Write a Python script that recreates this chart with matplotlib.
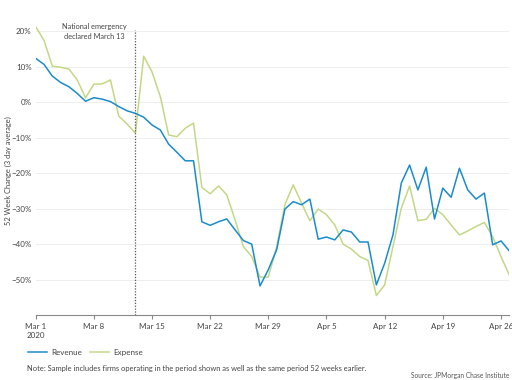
import matplotlib
matplotlib.use("Agg")
import matplotlib.pyplot as plt
import numpy as np
import datetime as dt
import matplotlib.dates as mdates

start = dt.date(2020, 3, 1)
revenue = [12.4, 10.7, 7.4, 5.6, 4.4, 2.5, 0.3, 1.3, 0.9, 0.2,
           -1.2, -2.4, -3.1, -4.2, -6.4, -7.8, -11.8, -14.1, -16.5, -16.5,
           -33.7, -34.7, -33.7, -32.9, -36.0, -39.0, -40.0, -51.8, -47.2, -41.6,
           -30.1, -28.0, -28.9, -27.3, -38.6, -38.0, -38.8, -36.0, -36.6, -39.4,
           -39.4, -51.5, -45.4, -37.4, -22.8, -17.7, -24.7, -18.3, -32.9, -24.2,
           -26.8, -18.6, -24.7, -27.3, -25.6, -40.2, -39.1, -41.9]
expense = [21.3, 17.5, 10.2, 9.9, 9.4, 6.3, 1.3, 5.1, 5.2, 6.3,
           -3.9, -6.1, -8.7, 13.0, 8.6, 1.6, -9.2, -9.7, -7.3, -5.9,
           -24.0, -25.8, -23.6, -26.1, -33.2, -40.7, -43.5, -49.3, -49.3, -40.7,
           -28.8, -23.3, -28.4, -33.4, -30.1, -31.7, -34.6, -40.0, -41.4, -43.5,
           -44.6, -54.5, -51.5, -40.7, -29.9, -23.6, -33.4, -33.0, -29.9, -31.7,
           -34.6, -37.4, -36.3, -35.0, -33.9, -37.9, -43.5, -48.7]
dates = [start + dt.timedelta(days=i) for i in range(len(revenue))]
tick_dates = [dt.date(2020, 3, 1) + dt.timedelta(days=7 * i) for i in range(9)]
tick_labels = ["Mar 1\n2020", "Mar 8", "Mar 15", "Mar 22", "Mar 29",
               "Apr 5", "Apr 12", "Apr 19", "Apr 26"]
yticks = [20, 10, 0, -10, -20, -30, -40, -50]
emergency = dt.date(2020, 3, 13)

plt.rcParams['font.family'] = ['Lato', 'DejaVu Sans']

fig = plt.figure(figsize=(5.12, 3.8), dpi=100)
ax = fig.add_axes([0.0697, 0.171, 0.925, 0.765])

ax.plot(dates, revenue, color="#1a8ccb", lw=1.1, label="Revenue", zorder=3)
ax.plot(dates, expense, color="#c3d886", lw=1.1, label="Expense", zorder=2)

ax.axvline(emergency, ymin=0, ymax=(20.5 + 60) / 82, color="#555555",
           lw=0.9, ls=(0, (1, 1.3)), zorder=4)
ax.text(dt.date(2020, 3, 8) + dt.timedelta(hours=21), 20.0,
        "National emergency\ndeclared March 13", ha="center", va="center",
        fontsize=5.3, color="#444444", linespacing=1.4)

ax.set_xlim(dates[0], dates[0] + dt.timedelta(days=57.1))
ax.set_ylim(-60, 22)
ax.set_yticks(yticks)
ax.set_yticklabels([f"{v}%".replace("-", "\u2212") for v in yticks])
ax.set_xticks(tick_dates)
ax.set_xticklabels(tick_labels)
ax.grid(axis="y", color="#eeeeee", lw=0.7)
ax.set_axisbelow(True)
for s in ["top", "right", "left"]:
    ax.spines[s].set_visible(False)
ax.spines["bottom"].set_color("#888888")
ax.spines["bottom"].set_linewidth(0.8)
ax.tick_params(axis="y", length=0, labelsize=5.8, labelcolor="#444444", pad=3)
ax.tick_params(axis="x", length=3, color="#888888", labelsize=5.8,
               labelcolor="#444444", pad=3)

fig.text(0.016, 0.55, "52 Week Change (3 day average)", rotation=90,
         ha="center", va="center", fontsize=5.4, color="#444444")

leg = fig.legend(loc="lower left", bbox_to_anchor=(0.04, 0.045), ncol=2,
                 frameon=False, fontsize=5.8, handlelength=2.4,
                 columnspacing=1.0, handletextpad=0.5)
for t in leg.get_texts():
    t.set_color("#444444")

fig.text(0.053, 0.029, "Note: Sample includes firms operating in the period shown as well as the same period 52 weeks earlier.",
         ha="left", va="center", fontsize=5.4, color="#444444")
fig.text(0.994, 0.013, "Source: JPMorgan Chase Institute",
         ha="right", va="center", fontsize=4.8, color="#555555")

fig.savefig("out.png", dpi=100)
